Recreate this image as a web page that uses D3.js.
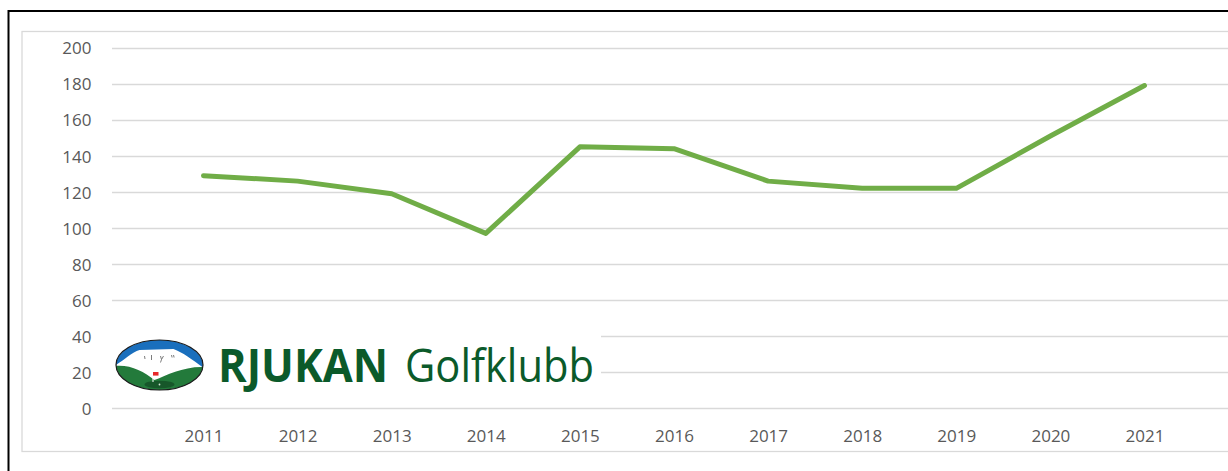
<!DOCTYPE html>
<html>
<head>
<meta charset="utf-8">
<script src="https://cdn.jsdelivr.net/npm/d3@7"></script>
<style>
  html, body { margin: 0; padding: 0; background: #ffffff; }
  svg { display: block; }
</style>
</head>
<body>
<svg id="chart" width="1228" height="471"></svg>
<script>
// ---- data ----
const years = ["2011","2012","2013","2014","2015","2016","2017","2018","2019","2020","2021"];
const values = [129, 126, 119, 97, 145, 144, 126, 122, 122, 151, 179];
const yTicks = [0, 20, 40, 60, 80, 100, 120, 140, 160, 180, 200];
const logoBold = "RJUKAN";
const logoRegular = "Golfklubb";

const svg = d3.select("#chart");
const W = 1228, H = 471;

// outer frame (black) and chart area (light gray)
svg.append("rect").attr("x", 8.5).attr("y", 11).attr("width", W + 20).attr("height", H + 20)
  .attr("fill", "#fff").attr("stroke", "#000").attr("stroke-width", 2);
svg.append("rect").attr("x", 22).attr("y", 31.5).attr("width", W + 20).attr("height", 420)
  .attr("fill", "#fff").attr("stroke", "#d9d9d9").attr("stroke-width", 1.3);

// scales
const x = d3.scalePoint().domain(years).range([203.5, 1144.5]);
const y = d3.scaleLinear().domain([0, 200]).range([408.3, 47.7]);
const gridLeft = 112, gridRight = W + 5;

// gridlines
svg.append("g").selectAll("line").data(yTicks).join("line")
  .attr("x1", gridLeft).attr("x2", gridRight)
  .attr("y1", d => Math.round(y(d)) + 0.5).attr("y2", d => Math.round(y(d)) + 0.5)
  .attr("stroke", "#d9d9d9").attr("stroke-width", 1.3);

// y axis labels
const yAxis = d3.axisLeft(y).tickValues(yTicks).tickSize(0).tickPadding(0);
const gy = svg.append("g").attr("transform", "translate(91.5,0)").call(yAxis);
gy.select(".domain").remove();
gy.selectAll("text").attr("font-family", "'Open Sans', sans-serif").attr("font-size", 17)
  .attr("fill", "#595959").attr("dy", "0.36em");

// x axis labels
const xAxis = d3.axisBottom(x).tickSize(0).tickPadding(0);
const gx = svg.append("g").attr("transform", "translate(0,430)").call(xAxis);
gx.select(".domain").remove();
gx.selectAll("text").attr("font-family", "'Open Sans', sans-serif").attr("font-size", 17)
  .attr("fill", "#595959").attr("dy", "0.72em");

// line
const line = d3.line().x((d, i) => x(years[i])).y(d => y(d));
svg.append("path").datum(values).attr("d", line)
  .attr("fill", "none").attr("stroke", "#70ad47").attr("stroke-width", 5)
  .attr("stroke-linejoin", "round").attr("stroke-linecap", "round");

// ---- logo overlay ----
const logo = svg.append("g");
logo.append("rect").attr("x", 104).attr("y", 330).attr("width", 497).attr("height", 67).attr("fill", "#fff");

const cx = 159.5, cy = 365, rx = 43.5, ry = 25;
const defs = svg.append("defs");
defs.append("clipPath").attr("id", "ell").append("ellipse")
  .attr("cx", cx).attr("cy", cy).attr("rx", rx).attr("ry", ry);
const lg = logo.append("g").attr("clip-path", "url(#ell)");
lg.append("rect").attr("x", cx - rx).attr("y", cy - ry).attr("width", 2 * rx).attr("height", 2 * ry).attr("fill", "#1a6fbd");
// white mountain
lg.append("path").attr("fill", "#ffffff")
  .attr("d", `M ${cx-rx-2},${cy+1} C ${cx-36},${cy-4} ${cx-28},${cy-13} ${cx-20},${cy-15}
              L ${cx+14},${cy-16} C ${cx+24},${cy-12} ${cx+32},${cy-6} ${cx+rx+2},${cy+4}
              L ${cx+rx+2},${cy+30} L ${cx-rx-2},${cy+30} Z`);
// mountain marks
lg.append("path").attr("fill", "none").attr("stroke", "#6e6e6e").attr("stroke-width", 0.9)
  .attr("d", `M ${cx-15},${cy-9} l 0.5,3 M ${cx-8},${cy-10} l 0,5 M ${cx+1},${cy-9} l 1,3.5 l 2,-3.5 M ${cx+2},${cy-5.5} l -1,3 M ${cx+12},${cy-10} l 0.6,2.5 M ${cx+14},${cy-10} l 0.6,2.5`);
// green hills
lg.append("path").attr("fill", "#237a3b")
  .attr("d", `M ${cx-rx-2},${cy+1} C ${cx-30},${cy-1} ${cx-16},${cy+6} ${cx-5},${cy+15}
              C ${cx+8},${cy+10} ${cx+24},${cy+1} ${cx+rx+2},${cy+2}
              L ${cx+rx+2},${cy+30} L ${cx-rx-2},${cy+30} Z`);
// putting green
lg.append("ellipse").attr("cx", cx).attr("cy", cy + 19.5).attr("rx", 15).attr("ry", 3.8).attr("fill", "#17572a");
lg.append("circle").attr("cx", cx).attr("cy", cy + 19.5).attr("r", 0.9).attr("fill", "#cfe3d2");
// flag
lg.append("line").attr("x1", cx - 6.5).attr("x2", cx - 6.5).attr("y1", cy + 7).attr("y2", cy + 17)
  .attr("stroke", "#ffffff").attr("stroke-width", 1);
lg.append("rect").attr("x", cx - 6.5).attr("y", cy + 7).attr("width", 5.5).attr("height", 3.6).attr("fill", "#e8282b");
logo.append("ellipse").attr("cx", cx).attr("cy", cy).attr("rx", rx).attr("ry", ry)
  .attr("fill", "none").attr("stroke", "#1b1b1b").attr("stroke-width", 1.2);

logo.append("text").attr("x", 218).attr("y", 382).text(logoBold)
  .attr("font-family", "'Open Sans', sans-serif").attr("font-weight", 700).attr("font-size", 46)
  .attr("fill", "#0b5a2a").attr("textLength", 170).attr("lengthAdjust", "spacingAndGlyphs");
logo.append("text").attr("x", 405).attr("y", 382).text(logoRegular)
  .attr("font-family", "'Open Sans', sans-serif").attr("font-weight", 400).attr("font-size", 46)
  .attr("fill", "#0b5a2a").attr("textLength", 189).attr("lengthAdjust", "spacingAndGlyphs");
</script>
</body>
</html>
